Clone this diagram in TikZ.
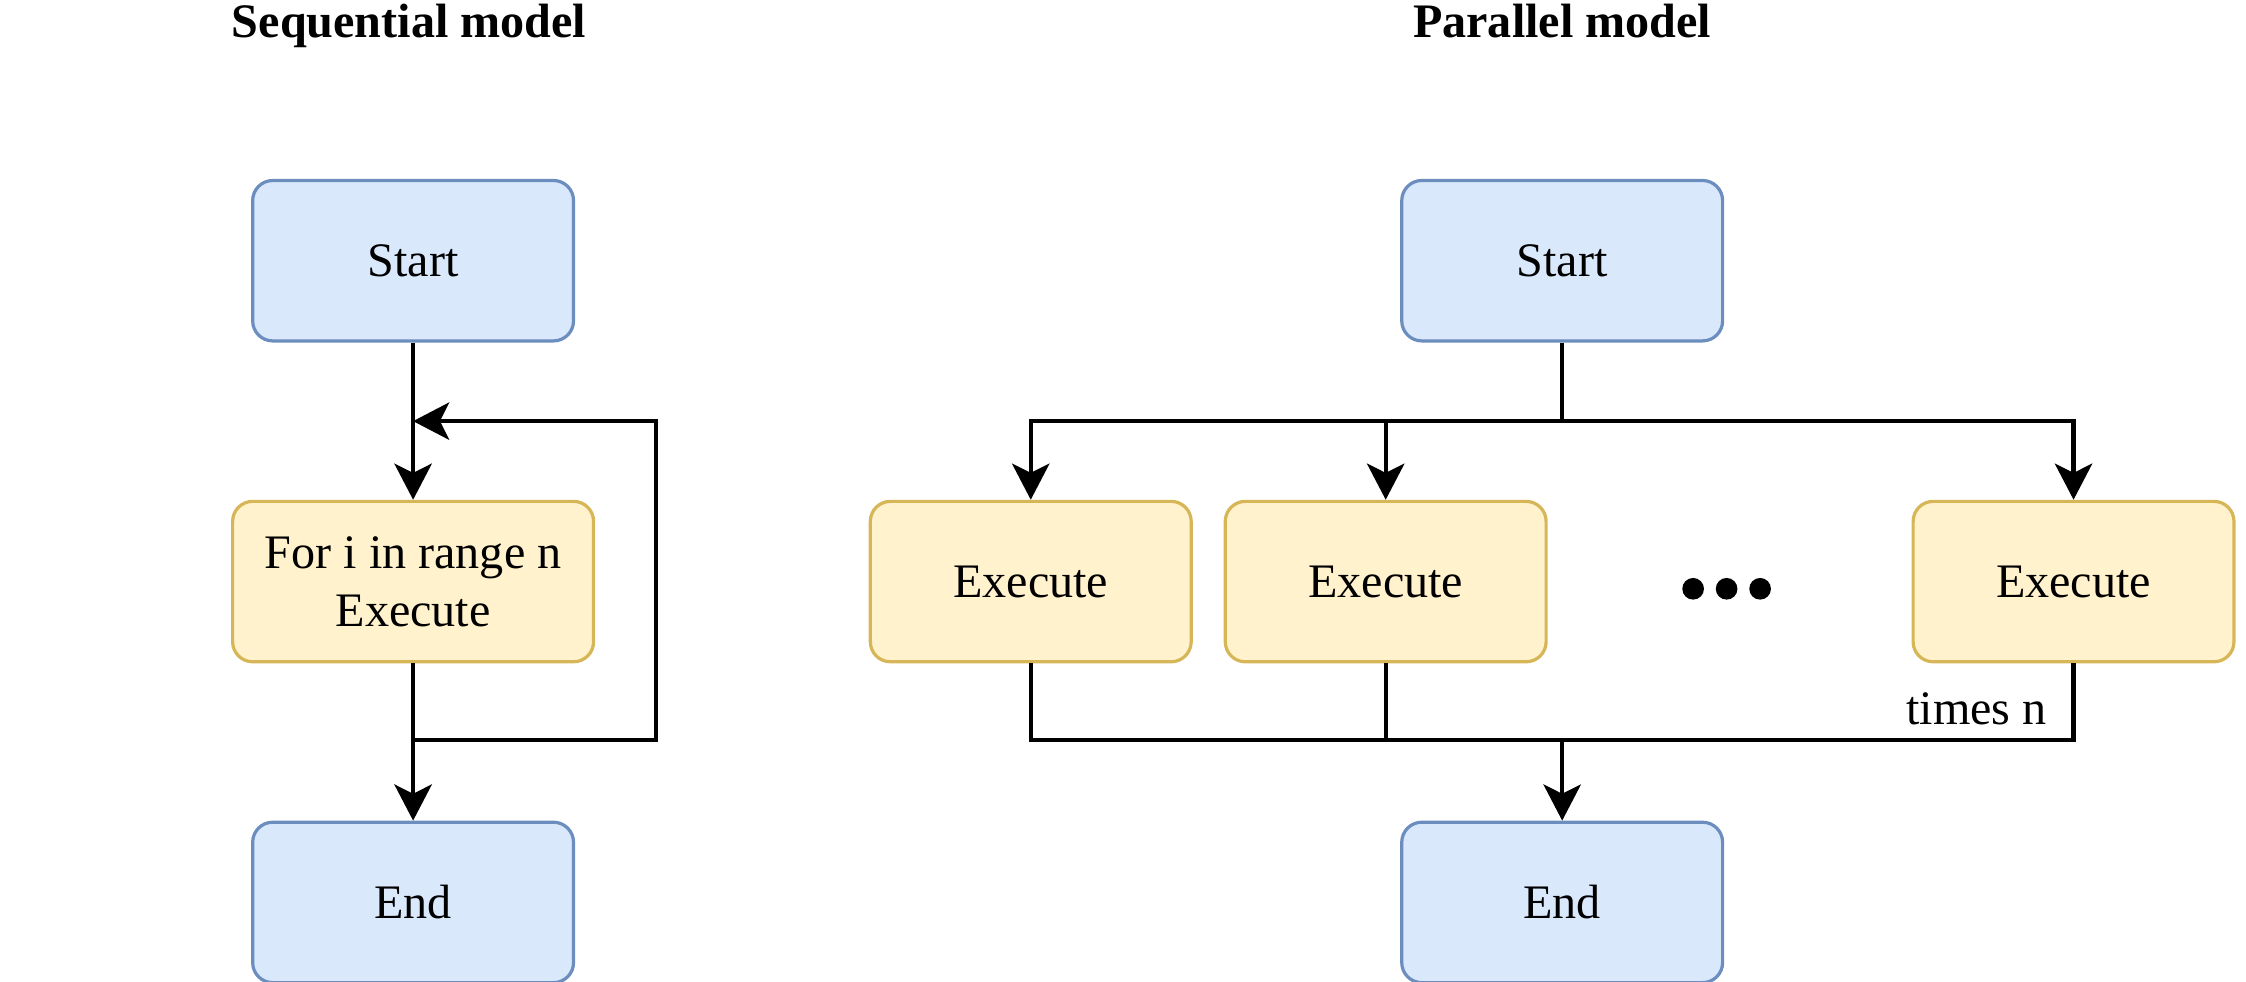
\documentclass[tikz,border=0pt]{standalone}
\usepackage{fontspec}
\setmainfont{Liberation Serif}
\usetikzlibrary{arrows.meta}
\definecolor{bfill}{HTML}{DAE8FC}
\definecolor{bdraw}{HTML}{6C8EBF}
\definecolor{yfill}{HTML}{FFF2CC}
\definecolor{ydraw}{HTML}{D6B656}
\begin{document}
\begin{tikzpicture}[x=0.5pt,y=-0.5pt,
  box/.style={rectangle, rounded corners=5pt, line width=0.8pt, minimum height=40pt, inner sep=0pt, align=center, font=\fontsize{12}{14.4}\selectfont},
  bluebox/.style={box, fill=bfill, draw=bdraw, minimum width=80pt},
  yellowbox/.style={box, fill=yfill, draw=ydraw, minimum width=80pt},
  conn/.style={line width=1.1pt, black},
  arr/.style={conn, -{Stealth[length=9pt,width=9.3pt,inset=2.3pt]}},
  title/.style={font=\bfseries\fontsize{12}{14.4}\selectfont, inner sep=0pt, anchor=base},
  lbl/.style={font=\fontsize{12}{14.4}\selectfont, inner sep=0pt}]
\useasboundingbox (0,0) rectangle (1120,489.5);

% ---------- Sequential model ----------
\node[title] (t1) at (204,18.6) {Sequential model};
\node[bluebox] (s1) at (206,130) {Start};
\node[yellowbox, minimum width=90pt] (f1) at (206,290) {For i in range n\\Execute};
\node[bluebox] (e1) at (206,450) {End};

\coordinate (lb) at (327,369);
\coordinate (lt) at (327,210);
\coordinate (lj) at (206,210);

\draw[arr] (s1.south) -- (f1.north);
\draw[arr] (f1.south) -- (e1.north);
\draw[arr] (f1.south) |- (lb) -- (lt) -- (lj);

% ---------- Parallel model ----------
\node[title] (t2) at (779,18.6) {Parallel model};
\node[bluebox] (s2) at (779,130) {Start};
\node[yellowbox] (x1) at (514,290) {Execute};
\node[yellowbox] (x2) at (691,290) {Execute};
\node[yellowbox] (x4) at (1034,290) {Execute};
\node[bluebox] (e2) at (779,450) {End};

\fill (844.3,293.6) circle[radius=5.4];
\fill (861,293.6) circle[radius=5.4];
\fill (877.7,293.6) circle[radius=5.4];

\coordinate (br) at (779,210);
\coordinate (jn) at (779,369);

\draw[conn] (s2.south) -- (br);
\draw[arr] (br) -| (x1.north);
\draw[arr] (br) -| (x2.north);
\draw[arr] (br) -| (x4.north);

\draw[conn] (x1.south) |- (jn);
\draw[conn] (x2.south) |- (jn);
\draw[conn] (x4.south) |- (jn);
\draw[arr] (jn) -- (e2.north);

\node[lbl, anchor=base east] (tn) at (1021,361.5) {times n};
\end{tikzpicture}
\end{document}
